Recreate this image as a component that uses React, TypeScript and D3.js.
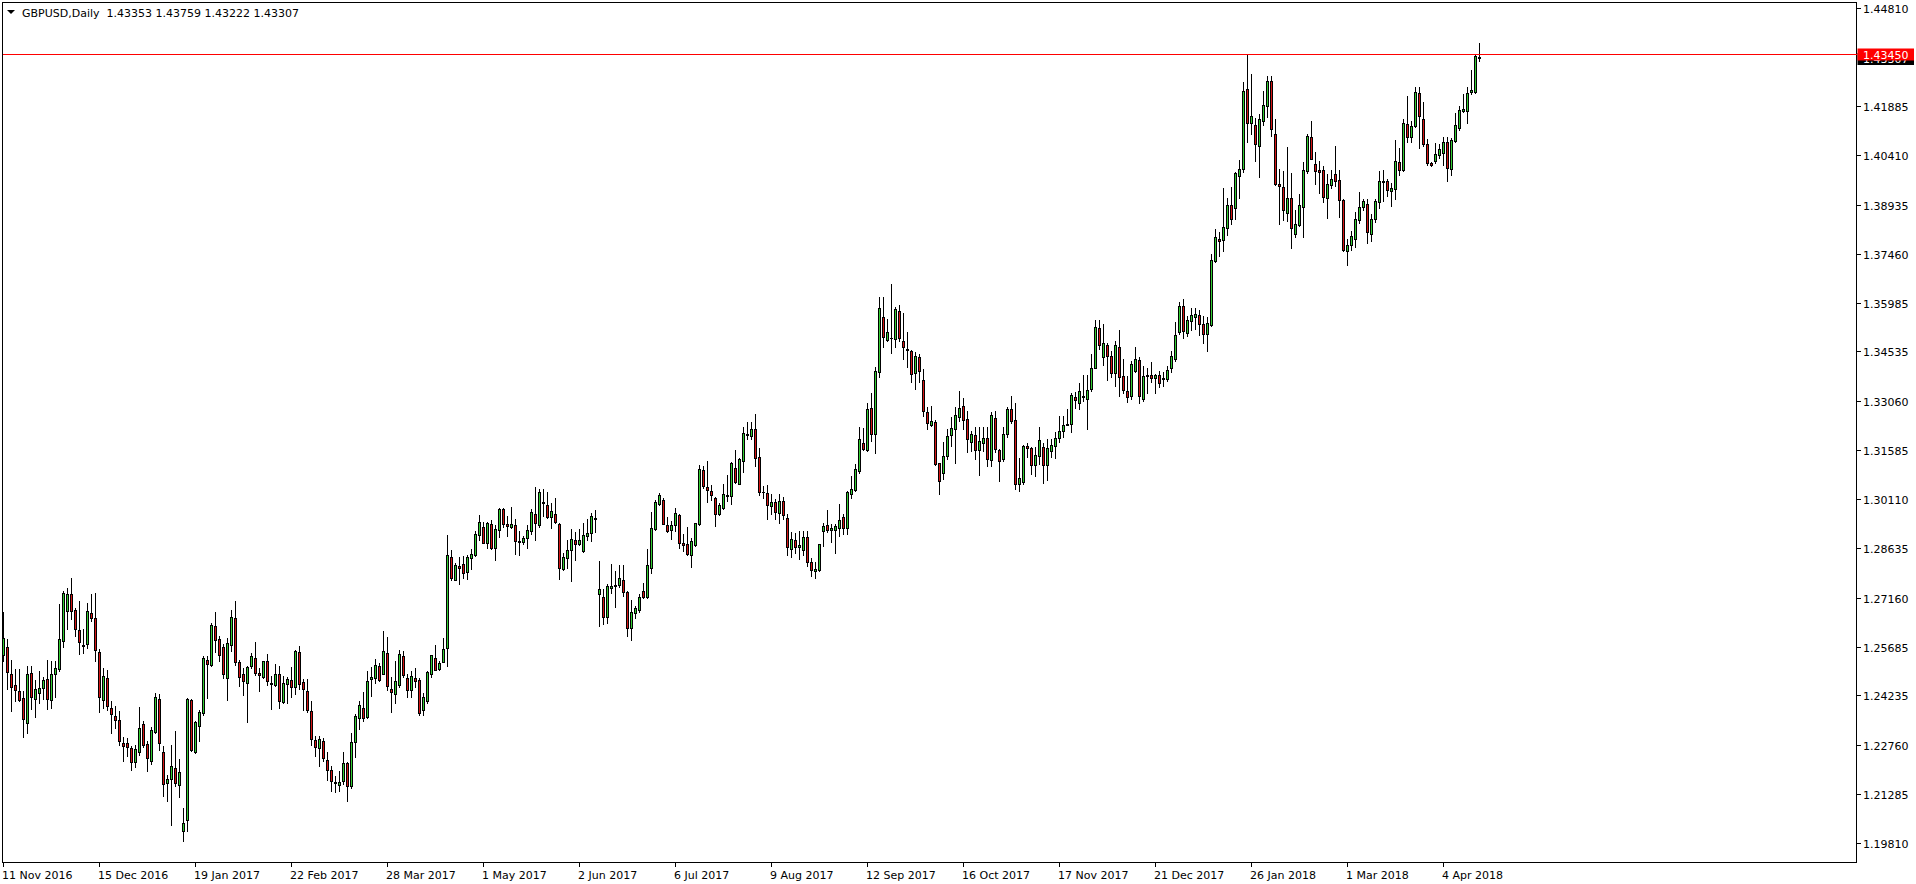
import React, { useEffect, useRef } from "react";
import * as d3 from "d3";

/* ───────────────── data (GBPUSD, Daily) ───────────────── */
const opens = [
  1.2544,1.2568,1.2489,1.2456,1.2438,1.2415,1.2341,1.2492,1.2414,1.2432,
  1.2446,1.2474,1.2411,1.2488,1.2503,1.2585,1.2677,1.2726,1.2678,1.2619,
  1.2574,1.2578,1.2669,1.2655,1.2553,1.2410,1.2475,1.2385,1.2361,1.2351,
  1.2280,1.2280,1.2267,1.2224,1.2255,1.2339,1.2277,1.2227,1.2315,1.2412,
  1.2255,1.2162,1.2174,1.2205,1.2156,1.2018,1.2051,1.2409,1.2253,1.2333,
  1.2370,1.2531,1.2516,1.2630,1.2591,1.2568,1.2477,1.2573,1.2655,1.2523,
  1.2487,1.2462,1.2513,1.2535,1.2492,1.2480,1.2526,1.2462,1.2456,1.2489,
  1.2405,1.2459,1.2469,1.2450,1.2553,1.2465,1.2436,1.2378,1.2291,1.2267,
  1.2286,1.2231,1.2201,1.2164,1.2154,1.2168,1.2220,1.2152,1.2285,1.2356,
  1.2385,1.2358,1.2474,1.2476,1.2513,1.2488,1.2552,1.2444,1.2429,1.2456,
  1.2543,1.2477,1.2440,1.2477,1.2471,1.2381,1.2406,1.2489,1.2537,1.2503,
  1.2525,1.2566,1.2837,1.2770,1.2810,1.2818,1.2794,1.2836,1.2845,1.2903,
  1.2927,1.2881,1.2936,1.2866,1.2918,1.2981,1.2936,1.2929,1.2933,1.2886,
  1.2884,1.2894,1.2915,1.2967,1.2933,1.3003,1.2994,1.2959,1.2966,1.2937,
  1.2803,1.2836,1.2858,1.2888,1.2878,1.2855,1.2902,1.2909,1.2955,1.2726,
  1.2718,1.2659,1.2744,1.2750,1.2753,1.2769,1.2733,1.2624,1.2669,1.2680,
  1.2736,1.2717,1.2806,1.2922,1.2996,1.3009,1.2933,1.2920,1.2933,1.2964,
  1.2879,1.2876,1.2843,1.2873,1.2936,1.3099,1.3048,1.3036,1.3016,1.2966,
  1.2984,1.3024,1.3022,1.3104,1.3058,1.3124,1.3204,1.3200,1.3221,1.3136,
  1.3034,1.3029,1.2990,1.3003,1.2971,1.3006,1.2956,1.2861,1.2888,1.2867,
  1.2860,1.2898,1.2823,1.2795,1.2798,1.2916,1.2933,1.2918,1.2918,1.2926,
  1.2958,1.2924,1.3026,1.3038,1.3096,1.3179,1.3159,1.3285,1.3206,1.3392,
  1.3557,1.3488,1.3495,1.3490,1.3576,1.3486,1.3461,1.3456,1.3389,1.3438,
  1.3369,1.3273,1.3233,1.3243,1.3119,1.3091,1.3140,1.3202,1.3220,1.3258,
  1.3290,1.3251,1.3181,1.3204,1.3158,1.3178,1.3194,1.3128,1.3255,1.3159,
  1.3131,1.3206,1.3282,1.3249,1.3056,1.3064,1.3171,1.3164,1.3112,1.3141,
  1.3167,1.3112,1.3156,1.3169,1.3193,1.3214,1.3234,1.3235,1.3318,1.3299,
  1.3316,1.3311,1.3342,1.3404,1.3524,1.3438,1.3474,1.3441,1.3388,1.3467,
  1.3380,1.3336,1.3319,1.3394,1.3429,1.3311,1.3379,1.3383,1.3373,1.3383,
  1.3375,1.3371,1.3403,1.3431,1.3511,1.3591,1.3509,1.3544,1.3556,1.3564,
  1.3537,1.3507,1.3533,1.3724,1.3789,1.3788,1.3823,1.3891,1.3883,1.3979,
  1.4001,1.4239,1.4139,1.4131,1.4069,1.4143,1.4189,1.4263,1.4104,1.3954,
  1.3945,1.3869,1.3912,1.3806,1.3831,1.3886,1.3993,1.4095,1.4014,1.3996,
  1.3996,1.3913,1.3953,1.3986,1.3966,1.3906,1.3755,1.3773,1.3789,1.3848,
  1.3886,1.3896,1.3806,1.3851,1.3901,1.3963,1.3963,1.3934,1.3941,1.4022,
  1.3997,1.4136,1.4097,1.4129,1.4227,1.4151,1.4074,1.4018,1.4024,1.4043,
  1.4049,1.4081,1.4001,1.4083,1.4124,1.4172,1.4173,1.4229,1.4229,1.43353,
];
const highs = [
  1.2674,1.2591,1.2529,1.2504,1.2504,1.2436,1.2513,1.2513,1.2469,1.2496,
  1.2480,1.2531,1.2526,1.2526,1.2698,1.2736,1.2744,1.2775,1.2686,1.2706,
  1.2621,1.2699,1.2728,1.2729,1.2564,1.2506,1.2501,1.2408,1.2391,1.2378,
  1.2298,1.2296,1.2271,1.2276,1.2388,1.2346,1.2286,1.2329,1.2431,1.2428,
  1.2273,1.2186,1.2276,1.2316,1.2232,1.2085,1.2416,1.2414,1.2346,1.2381,
  1.2541,1.2541,1.2641,1.2673,1.2601,1.2576,1.2594,1.2678,1.2706,1.2531,
  1.2506,1.2511,1.2551,1.2583,1.2506,1.2528,1.2549,1.2481,1.2519,1.2513,
  1.2481,1.2479,1.2508,1.2561,1.2571,1.2474,1.2474,1.2406,1.2302,1.2301,
  1.2296,1.2253,1.2211,1.2181,1.2196,1.2253,1.2223,1.2310,1.2368,1.2408,
  1.2434,1.2496,1.2508,1.2533,1.2521,1.2616,1.2598,1.2478,1.2526,1.2561,
  1.2556,1.2488,1.2496,1.2506,1.2476,1.2431,1.2496,1.2546,1.2573,1.2526,
  1.2595,1.2904,1.2859,1.2819,1.2838,1.2841,1.2844,1.2861,1.2916,1.2963,
  1.2944,1.2944,1.2949,1.2934,1.2986,1.2986,1.2960,1.2988,1.2951,1.2916,
  1.2901,1.2934,1.2981,1.3048,1.3041,1.3041,1.3034,1.3001,1.3014,1.2939,
  1.2850,1.2888,1.2923,1.2914,1.2921,1.2940,1.2951,1.2971,1.2980,1.2826,
  1.2741,1.2758,1.2817,1.2796,1.2813,1.2814,1.2736,1.2709,1.2692,1.2726,
  1.2761,1.2861,1.2973,1.3008,1.3031,1.3014,1.2958,1.2946,1.2984,1.2968,
  1.2906,1.2928,1.2894,1.2941,1.3114,1.3111,1.3124,1.3054,1.3018,1.3000,
  1.3057,1.3084,1.3121,1.3159,1.3134,1.3226,1.3241,1.3243,1.3266,1.3164,
  1.3051,1.3053,1.3028,1.3013,1.3027,1.3019,1.2966,1.2913,1.2910,1.2915,
  1.2916,1.2916,1.2834,1.2824,1.2878,1.2941,1.2979,1.2936,1.2936,1.2998,
  1.2966,1.3036,1.3081,1.3117,1.3226,1.3223,1.3298,1.3329,1.3406,1.3616,
  1.3616,1.3551,1.3656,1.3586,1.3594,1.3570,1.3513,1.3459,1.3453,1.3446,
  1.3401,1.3288,1.3290,1.3248,1.3120,1.3181,1.3221,1.3256,1.3286,1.3336,
  1.3313,1.3276,1.3216,1.3226,1.3226,1.3226,1.3226,1.3271,1.3276,1.3161,
  1.3226,1.3286,1.3321,1.3299,1.3133,1.3174,1.3178,1.3166,1.3166,1.3228,
  1.3178,1.3191,1.3191,1.3211,1.3261,1.3261,1.3281,1.3328,1.3331,1.3358,
  1.3384,1.3384,1.3446,1.3548,1.3548,1.3536,1.3479,1.3456,1.3484,1.3519,
  1.3431,1.3381,1.3426,1.3466,1.3436,1.3411,1.3403,1.3421,1.3386,1.3396,
  1.3393,1.3411,1.3456,1.3543,1.3601,1.3611,1.3559,1.3583,1.3583,1.3579,
  1.3561,1.3556,1.3745,1.3819,1.3811,1.3943,1.3913,1.3945,1.3991,1.4026,
  1.4261,1.4345,1.4284,1.4153,1.4164,1.4233,1.4279,1.4279,1.4149,1.3999,
  1.3995,1.4065,1.3988,1.3876,1.3925,1.4021,1.4106,1.4143,1.4051,1.4023,
  1.4009,1.3986,1.3996,1.4069,1.3996,1.3911,1.3789,1.3814,1.3871,1.3931,
  1.3911,1.3911,1.3866,1.3909,1.3993,1.3996,1.3971,1.3958,1.4086,1.4063,
  1.4149,1.4218,1.4143,1.4246,1.4246,1.4201,1.4091,1.4021,1.4078,1.4076,
  1.4096,1.4096,1.4093,1.4166,1.4189,1.4224,1.4246,1.4296,1.4344,1.43759,
];
const lows = [
  1.2526,1.2443,1.2376,1.2408,1.2406,1.2299,1.2311,1.2383,1.2359,1.2401,
  1.2414,1.2383,1.2386,1.2418,1.2498,1.2568,1.2622,1.2651,1.2601,1.2548,
  1.2551,1.2566,1.2646,1.2526,1.2374,1.2386,1.2379,1.2310,1.2326,1.2276,
  1.2226,1.2241,1.2199,1.2208,1.2246,1.2269,1.2196,1.2219,1.2311,1.2261,
  1.2123,1.2108,1.2036,1.2151,1.2119,1.1988,1.2018,1.2256,1.2250,1.2286,
  1.2366,1.2416,1.2511,1.2554,1.2526,1.2476,1.2410,1.2556,1.2516,1.2451,
  1.2426,1.2344,1.2506,1.2486,1.2438,1.2476,1.2456,1.2384,1.2451,1.2386,
  1.2402,1.2401,1.2418,1.2428,1.2442,1.2381,1.2374,1.2276,1.2241,1.2213,
  1.2226,1.2171,1.2136,1.2133,1.2136,1.2158,1.2108,1.2146,1.2238,1.2323,
  1.2348,1.2356,1.2421,1.2461,1.2466,1.2488,1.2440,1.2374,1.2401,1.2448,
  1.2478,1.2420,1.2419,1.2450,1.2366,1.2366,1.2401,1.2478,1.2499,1.2501,
  1.2524,1.2511,1.2768,1.2769,1.2756,1.2776,1.2773,1.2803,1.2840,1.2888,
  1.2880,1.2865,1.2861,1.2830,1.2898,1.2929,1.2900,1.2926,1.2848,1.2843,
  1.2878,1.2864,1.2906,1.2888,1.2929,1.2961,1.2956,1.2926,1.2940,1.2773,
  1.2799,1.2804,1.2767,1.2828,1.2874,1.2853,1.2888,1.2886,1.2913,1.2631,
  1.2638,1.2641,1.2731,1.2689,1.2749,1.2720,1.2601,1.2588,1.2656,1.2674,
  1.2716,1.2716,1.2791,1.2918,1.2994,1.2936,1.2912,1.2893,1.2916,1.2866,
  1.2856,1.2844,1.2809,1.2872,1.2933,1.3046,1.3004,1.3008,1.2932,1.2964,
  1.2982,1.3006,1.2996,1.3060,1.3056,1.3094,1.3191,1.3191,1.3109,1.3023,
  1.3014,1.2951,1.2966,1.2951,1.2939,1.2951,1.2845,1.2838,1.2849,1.2831,
  1.2844,1.2810,1.2782,1.2774,1.2796,1.2871,1.2914,1.2884,1.2851,1.2901,
  1.2906,1.2908,1.3016,1.3036,1.3091,1.3159,1.3156,1.3186,1.3148,1.3376,
  1.3466,1.3484,1.3448,1.3468,1.3486,1.3431,1.3406,1.3361,1.3341,1.3361,
  1.3259,1.3221,1.3231,1.3114,1.3026,1.3073,1.3131,1.3171,1.3118,1.3246,
  1.3221,1.3151,1.3156,1.3131,1.3085,1.3156,1.3111,1.3111,1.3151,1.3066,
  1.3126,1.3196,1.3238,1.3041,1.3036,1.3058,1.3136,1.3086,1.3081,1.3116,
  1.3061,1.3068,1.3136,1.3133,1.3181,1.3196,1.3234,1.3211,1.3283,1.3281,
  1.3306,1.3221,1.3336,1.3404,1.3461,1.3413,1.3368,1.3378,1.3351,1.3320,
  1.3329,1.3301,1.3311,1.3391,1.3299,1.3306,1.3329,1.3361,1.3329,1.3346,
  1.3351,1.3364,1.3391,1.3426,1.3506,1.3493,1.3501,1.3519,1.3521,1.3503,
  1.3479,1.3456,1.3531,1.3721,1.3739,1.3753,1.3801,1.3834,1.3851,1.3913,
  1.3991,1.4081,1.4104,1.4023,1.3976,1.4133,1.4156,1.4099,1.3951,1.3834,
  1.3846,1.3843,1.3763,1.3796,1.3829,1.3796,1.3989,1.4029,1.3955,1.3928,
  1.3901,1.3853,1.3943,1.3948,1.3856,1.3753,1.3711,1.3756,1.3766,1.3838,
  1.3878,1.3779,1.3784,1.3841,1.3883,1.3903,1.3918,1.3888,1.3911,1.3981,
  1.3993,1.4081,1.4081,1.4126,1.4064,1.4068,1.4011,1.4009,1.4019,1.4033,
  1.4011,1.3964,1.3981,1.4081,1.4116,1.4169,1.4139,1.4223,1.4226,1.43222,
];
const closes = [
  1.2596,1.2494,1.2449,1.2440,1.2410,1.2353,1.2489,1.2419,1.2442,1.2445,
  1.2469,1.2413,1.2489,1.2507,1.2591,1.2729,1.2726,1.2677,1.2623,1.2584,
  1.2570,1.2675,1.2656,1.2561,1.2419,1.2483,1.2392,1.2368,1.2350,1.2288,
  1.2273,1.2269,1.2224,1.2262,1.2325,1.2275,1.2236,1.2321,1.2418,1.2281,
  1.2159,1.2174,1.2213,1.2162,1.2193,1.2042,1.2413,1.2259,1.2343,1.2375,
  1.2537,1.2519,1.2634,1.2590,1.2545,1.2488,1.2580,1.2658,1.2525,1.2479,
  1.2467,1.2508,1.2541,1.2491,1.2486,1.2526,1.2468,1.2458,1.2489,1.2408,
  1.2462,1.2474,1.2450,1.2556,1.2458,1.2444,1.2380,1.2294,1.2268,1.2294,
  1.2237,1.2200,1.2166,1.2162,1.2163,1.2220,1.2153,1.2285,1.2361,1.2396,
  1.2357,1.2468,1.2478,1.2516,1.2470,1.2558,1.2453,1.2435,1.2468,1.2549,
  1.2486,1.2440,1.2483,1.2468,1.2371,1.2418,1.2493,1.2544,1.2500,1.2522,
  1.2564,1.2843,1.2776,1.2813,1.2804,1.2791,1.2837,1.2846,1.2906,1.2942,
  1.2881,1.2939,1.2866,1.2923,1.2982,1.2938,1.2932,1.2936,1.2887,1.2884,
  1.2895,1.2919,1.2972,1.2941,1.3033,1.2999,1.2959,1.2976,1.2942,1.2804,
  1.2838,1.2858,1.2892,1.2878,1.2889,1.2903,1.2910,1.2960,1.2951,1.2741,
  1.2659,1.2751,1.2751,1.2755,1.2774,1.2734,1.2624,1.2672,1.2685,1.2717,
  1.2719,1.2813,1.2924,1.3002,1.3023,1.2938,1.2917,1.2933,1.2969,1.2881,
  1.2873,1.2846,1.2886,1.2940,1.3101,1.3050,1.3038,1.3023,1.2968,1.2993,
  1.3026,1.3022,1.3120,1.3062,1.3131,1.3209,1.3206,1.3221,1.3134,1.3034,
  1.3032,1.2993,1.3002,1.2974,1.3006,1.2963,1.2867,1.2891,1.2867,1.2873,
  1.2898,1.2822,1.2798,1.2802,1.2876,1.2930,1.2918,1.2925,1.2931,1.2950,
  1.2926,1.3033,1.3042,1.3101,1.3191,1.3161,1.3282,1.3206,1.3396,1.3584,
  1.3496,1.3512,1.3493,1.3581,1.3493,1.3466,1.3457,1.3386,1.3440,1.3394,
  1.3276,1.3239,1.3245,1.3116,1.3065,1.3140,1.3201,1.3225,1.3263,1.3285,
  1.3249,1.3191,1.3205,1.3158,1.3185,1.3194,1.3130,1.3264,1.3160,1.3124,
  1.3207,1.3282,1.3246,1.3056,1.3075,1.3171,1.3164,1.3112,1.3144,1.3188,
  1.3112,1.3165,1.3172,1.3193,1.3215,1.3234,1.3237,1.3323,1.3307,1.3336,
  1.3320,1.3339,1.3405,1.3528,1.3473,1.3479,1.3441,1.3389,1.3474,1.3378,
  1.3338,1.3316,1.3416,1.3431,1.3319,1.3381,1.3383,1.3373,1.3383,1.3359,
  1.3371,1.3399,1.3441,1.3504,1.3591,1.3514,1.3549,1.3564,1.3567,1.3535,
  1.3505,1.3540,1.3726,1.3795,1.3785,1.3825,1.3891,1.3849,1.3988,1.3999,
  1.4233,1.4139,1.4158,1.4076,1.4149,1.4191,1.4263,1.4120,1.3956,1.3949,
  1.3878,1.3912,1.3823,1.3836,1.3891,1.3996,1.4099,1.4031,1.3994,1.3992,
  1.3916,1.3954,1.3969,1.3964,1.3908,1.3756,1.3773,1.3798,1.3849,1.3887,
  1.3903,1.3811,1.3849,1.3903,1.3963,1.3961,1.3936,1.3942,1.4025,1.3998,
  1.4137,1.4096,1.4128,1.4229,1.4158,1.4076,1.4019,1.4013,1.4044,1.4059,
  1.4080,1.4004,1.4086,1.4131,1.4176,1.4179,1.4227,1.4236,1.4339,1.43307,
];

// time labels, one every 24 bars starting from the first bar
const dateLabels = [
  "11 Nov 2016", "15 Dec 2016", "19 Jan 2017", "22 Feb 2017", "28 Mar 2017",
  "1 May 2017", "2 Jun 2017", "6 Jul 2017", "9 Aug 2017", "12 Sep 2017",
  "16 Oct 2017", "17 Nov 2017", "21 Dec 2017", "26 Jan 2018", "1 Mar 2018",
  "4 Apr 2018",
];
const labelStep = 24;

const priceTicks = [
  1.4481, 1.41885, 1.4041, 1.38935, 1.3746, 1.35985, 1.34535, 1.3306,
  1.31585, 1.3011, 1.28635, 1.2716, 1.25685, 1.24235, 1.2276, 1.21285, 1.1981,
];

const symbol = "GBPUSD,Daily";
const hLinePrice = 1.4345;

const App: React.FC = () => {
  const svgRef = useRef<SVGSVGElement | null>(null);

  useEffect(() => {
    if (!svgRef.current) return;

    /* ───────────────── settings ───────────────── */
    const width = 1916;
    const height = 884;
    const left = 2.5;
    const top = 2.5;
    const right = 1856.5;
    const bottom = 862.5;
    const font = "'DejaVu Sans', sans-serif";
    const bull = "#32cd32";
    const bear = "#d41414";
    const n = opens.length;

    const x = d3
      .scaleLinear()
      .domain([0, n - 1])
      .range([3.5, 3.5 + 4 * (n - 1)]);
    const y = d3.scaleLinear().domain([1.1981, 1.4481]).range([843.2, 8.3]);
    const py = (v: number) => Math.round(y(v));

    d3.select(svgRef.current).selectAll("*").remove();
    const svg = d3
      .select(svgRef.current)
      .attr("width", width)
      .attr("height", height)
      .style("position", "absolute")
      .style("left", 0)
      .style("top", 0)
      .style("background", "#fff");

    /* ───────────────── frame ───────────────── */
    svg
      .append("rect")
      .attr("x", left)
      .attr("y", top)
      .attr("width", right - left)
      .attr("height", bottom - top)
      .attr("fill", "#fff")
      .attr("stroke", "#000")
      .attr("shape-rendering", "crispEdges");

    /* ───────────────── price axis ───────────────── */
    const yAxis = svg.append("g");
    priceTicks.forEach((v) => {
      const ty = py(v) + 0.5;
      yAxis
        .append("line")
        .attr("x1", right)
        .attr("x2", right + 4)
        .attr("y1", ty)
        .attr("y2", ty)
        .attr("stroke", "#000")
        .attr("shape-rendering", "crispEdges");
      yAxis
        .append("text")
        .attr("x", 1863)
        .attr("y", ty + 4)
        .attr("font-family", font)
        .attr("font-size", "11px")
        .attr("fill", "#000")
        .text(v.toFixed(5));
    });

    /* ───────────────── time axis ───────────────── */
    const xAxis = svg.append("g");
    dateLabels.forEach((t, k) => {
      const tx = x(k * labelStep);
      xAxis
        .append("line")
        .attr("x1", tx)
        .attr("x2", tx)
        .attr("y1", bottom)
        .attr("y2", bottom + 4)
        .attr("stroke", "#000")
        .attr("shape-rendering", "crispEdges");
      xAxis
        .append("text")
        .attr("x", tx - 1.5)
        .attr("y", 879)
        .attr("font-family", font)
        .attr("font-size", "11px")
        .attr("fill", "#000")
        .text(t);
    });

    /* ───────────────── candles ───────────────── */
    const bars = svg.append("g").attr("shape-rendering", "crispEdges");
    d3.range(n).forEach((i) => {
      const o = opens[i];
      const c = closes[i];
      const cx = x(i);
      const yt = py(Math.max(o, c));
      const yb = py(Math.min(o, c));

      bars
        .append("line")
        .attr("x1", cx)
        .attr("x2", cx)
        .attr("y1", py(highs[i]))
        .attr("y2", py(lows[i]) + 1)
        .attr("stroke", "#000");

      if (yb - yt < 1) {
        bars
          .append("line")
          .attr("x1", cx - 1.5)
          .attr("x2", cx + 1.5)
          .attr("y1", yt + 0.5)
          .attr("y2", yt + 0.5)
          .attr("stroke", "#000");
      } else {
        bars
          .append("rect")
          .attr("x", cx - 1)
          .attr("y", yt + 0.5)
          .attr("width", 2)
          .attr("height", yb - yt)
          .attr("fill", c >= o ? bull : bear)
          .attr("stroke", "#000");
      }
    });

    /* ───────────────── horizontal line + price labels ───────────────── */
    const hy = py(hLinePrice) + 0.5;
    svg
      .append("line")
      .attr("x1", left)
      .attr("x2", right)
      .attr("y1", hy)
      .attr("y2", hy)
      .attr("stroke", "#ff0000")
      .attr("shape-rendering", "crispEdges");

    const lastClose = closes[n - 1];
    const by = y(lastClose);
    svg
      .append("rect")
      .attr("x", right + 1)
      .attr("y", Math.round(by) - 5)
      .attr("width", width - right - 3)
      .attr("height", 12)
      .attr("fill", "#000");
    svg
      .append("text")
      .attr("x", 1863)
      .attr("y", Math.round(by) + 5)
      .attr("font-family", font)
      .attr("font-size", "11px")
      .attr("fill", "#fff")
      .text(lastClose.toFixed(5));

    svg
      .append("rect")
      .attr("x", right + 1)
      .attr("y", hy - 6)
      .attr("width", width - right - 3)
      .attr("height", 12)
      .attr("fill", "#ff0000");
    svg
      .append("text")
      .attr("x", 1863)
      .attr("y", hy + 4)
      .attr("font-family", font)
      .attr("font-size", "11px")
      .attr("fill", "#fff")
      .text(hLinePrice.toFixed(5));

    /* ───────────────── title ───────────────── */
    svg
      .append("path")
      .attr("d", "M7,10 L15,10 L11,14 Z")
      .attr("fill", "#000");
    const last = [opens[n - 1], highs[n - 1], lows[n - 1], closes[n - 1]];
    svg
      .append("text")
      .attr("x", 22)
      .attr("y", 17)
      .attr("font-family", font)
      .attr("font-size", "11px")
      .attr("fill", "#000")
      .attr("xml:space", "preserve")
      .text(`${symbol}  ${last.map((v) => v.toFixed(5)).join(" ")}`);
  }, []);

  return <svg ref={svgRef} />;
};

export default App;
